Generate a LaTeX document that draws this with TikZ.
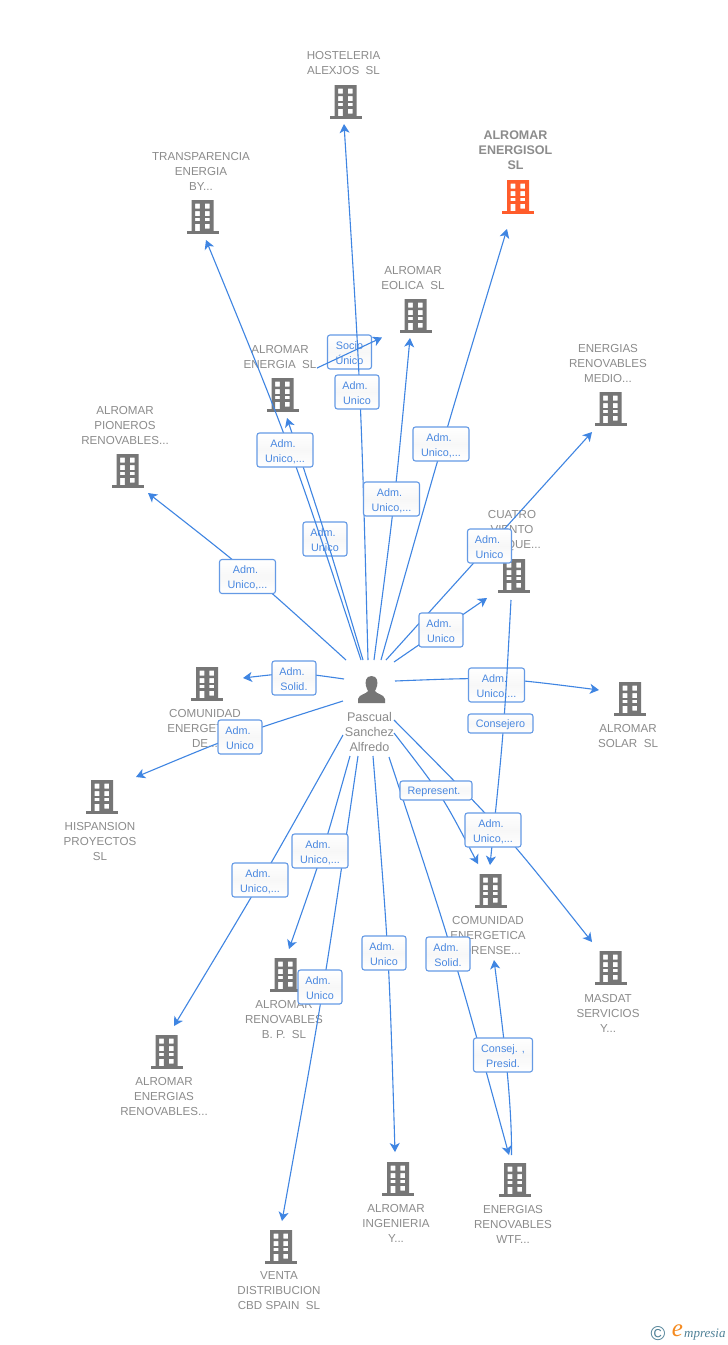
\documentclass[tikz,border=0pt]{standalone}
\usepackage{fontspec}
\setmainfont{Liberation Sans}
\newfontfamily\logofont{Liberation Serif}
\usetikzlibrary{arrows.meta}
\definecolor{edgeblue}{HTML}{3F85E2}
\definecolor{labelblue}{HTML}{4A88E0}
\definecolor{icongray}{HTML}{767676}
\definecolor{textgray}{HTML}{8C8C8C}
\definecolor{hotorange}{HTML}{FF5C2B}
\definecolor{logoteal}{HTML}{4F8197}
\definecolor{logoorange}{HTML}{F58A1F}
\newcommand{\stt}{\rule{0pt}{10.8pt}}
\newcommand{\ad}{\stt Adm.\kern4pt}
\tikzset{
  edge/.style={draw=edgeblue,line width=1.1pt,-{Stealth[length=9pt,width=10pt,inset=2.5pt]}},
  lab/.style={draw=labelblue!85!white,line width=1.1pt,rounded corners=2.5pt,top color=white,bottom color=white,middle color=black!3,
    text=labelblue,align=center,inner sep=0pt,font=\fontsize{10.8}{15}\selectfont},
  labw/.style={lab,minimum width=56pt,minimum height=34pt},
  labn/.style={lab,minimum width=44pt,minimum height=34pt},
  bname/.style={text=textgray,align=center,inner sep=0pt,font=\fontsize{11.6}{15}\selectfont},
  hotname/.style={text=textgray,align=center,inner sep=0pt,font=\fontsize{12.5}{15}\selectfont\bfseries},
  iconbox/.style={inner sep=0pt,minimum width=31pt,minimum height=34pt}
}
\newcommand{\bld}[4][icongray]{%
  \node[iconbox] (#2) at (#3,#4) {};
  \begin{scope}[shift={(#3,#4)}]
    \fill[#1,even odd rule]
      (-11,-17) rectangle (11,14)
      (-7.3,-13.5) rectangle (-2.7,-8.5) (2.3,-13.5) rectangle (7,-8.5)
      (-7.3,-6) rectangle (-2.7,-1) (2.3,-6) rectangle (7,-1)
      (-7.3,0.8) rectangle (-2.7,4.2) (2.3,0.8) rectangle (7,4.2)
      (-7.3,6.8) rectangle (-2.7,14) (2.3,6.8) rectangle (7,11.5);
    \fill[#1] (-16,14) rectangle (16,16.5);
  \end{scope}}
\begin{document}
\begin{tikzpicture}[x=1pt,y=-1pt]
\useasboundingbox (0,0) rectangle (728,1345);
\fill[white] (0,0) rectangle (728,1345);

% buildings
\bld{hosteleria}{345.5}{102}
\bld[hotorange]{energisol}{518}{197}
\bld{transparencia}{202.5}{217}
\bld{eolica}{415.5}{316}
\bld{energia}{282.5}{395}
\bld{pioneros}{127.5}{471}
\bld{medio}{610.5}{409}
\bld{cuatro}{514}{576}
\bld{comunidadde}{207}{684}
\bld{solar}{630}{699}
\bld{hispansion}{102}{797}
\bld{forense}{490.5}{891}
\bld{masdat}{610.5}{968}
\bld{renbp}{285.5}{975}
\bld{energias}{166.5}{1052}
\bld{ingenieria}{398}{1179}
\bld{wtf}{515}{1180}
\bld{venta}{281}{1247}

% building names
\node[bname] (n1) at (343.5,63.5) {HOSTELERIA\\ALEXJOS~~SL};
\node[hotname] (n2) at (515.5,150) {ALROMAR\\ENERGISOL\\SL};
\node[bname] (n3) at (201,171) {TRANSPARENCIA\\ENERGIA\\BY...};
\node[bname] (n4) at (413,278) {ALROMAR\\EOLICA~~SL};
\node[bname] (n5) at (280,357) {ALROMAR\\ENERGIA~~SL};
\node[bname] (n6) at (125,425) {ALROMAR\\PIONEROS\\RENOVABLES...};
\node[bname] (n7) at (608,363) {ENERGIAS\\RENOVABLES\\MEDIO...};
\node[bname] (n8) at (512,531) {CUATRO\\VIENTO\\PARQUE...};
\node[bname] (n9) at (205,728) {COMUNIDAD\\ENERGETICA\\DE...};
\node[bname] (n10) at (628,735.5) {ALROMAR\\SOLAR~~SL};
\node[bname] (n11) at (100,841) {HISPANSION\\PROYECTOS\\SL};
\node[bname] (n12) at (488,935) {COMUNIDAD\\ENERGETICA\\FORENSE...};
\node[bname] (n13) at (608,1013) {MASDAT\\SERVICIOS\\Y...};
\node[bname] (n14) at (284,1019) {ALROMAR\\RENOVABLES\\B.~P.~~SL};
\node[bname] (n15) at (164,1096) {ALROMAR\\ENERGIAS\\RENOVABLES...};
\node[bname] (n16) at (396,1223) {ALROMAR\\INGENIERIA\\Y...};
\node[bname] (n17) at (513,1224) {ENERGIAS\\RENOVABLES\\WTF...};
\node[bname] (n18) at (279,1291) {VENTA\\DISTRIBUCION\\CBD SPAIN~~SL};

% person
\node[iconbox,minimum width=28pt,minimum height=28pt] (p) at (371.5,689.5) {};
\fill[icongray] (371.5,676) .. controls (365.5,676) and (365,682) .. (366,686)
  .. controls (366.5,688) and (367.5,690) .. (368,691)
  .. controls (367,694) and (359,694) .. (358,699) -- (358,703) -- (385,703) -- (385,699)
  .. controls (384,694) and (376,694) .. (375,691)
  .. controls (375.5,690) and (376.5,688) .. (377,686)
  .. controls (378,682) and (377.5,676) .. (371.5,676) -- cycle;
\node[bname,font=\fontsize{12.6}{15}\selectfont] (pn) at (369.5,732) {Pascual\\Sanchez\\Alfredo};

% free ends of the connectors
\coordinate (a1) at (368,660);   \coordinate (t1) at (344,124);
\coordinate (a2) at (361,660);   \coordinate (t2) at (206,240);
\coordinate (a3) at (363,660);   \coordinate (t3) at (287,418);
\coordinate (a4) at (317,368);   \coordinate (t4) at (382,337.5);
\coordinate (a5) at (374,660);   \coordinate (t5) at (410,338);
\coordinate (a6) at (381,660);   \coordinate (t6) at (507,229);
\coordinate (a7) at (386,660);   \coordinate (t7) at (592,432);
\coordinate (a8) at (394,662);   \coordinate (t8) at (487,598);
\coordinate (a9) at (395,681);   \coordinate (t9) at (599,690);
\coordinate (a10) at (511,600);  \coordinate (t10) at (490,865);
\coordinate (a11) at (394,720);  \coordinate (t11) at (592,942);
\coordinate (a12) at (394,733);  \coordinate (t12) at (478,864);
\coordinate (a13) at (389,757);  \coordinate (t13) at (509,1155);
\coordinate (a14) at (511.5,1155); \coordinate (t14) at (494,960);
\coordinate (a15) at (373,756);  \coordinate (t15) at (395,1152);
\coordinate (a16) at (358,756);  \coordinate (t16) at (282,1221);
\coordinate (a17) at (350,756);  \coordinate (t17) at (289,949);
\coordinate (a18) at (343,735);  \coordinate (t18) at (174,1026);
\coordinate (a19) at (343,701);  \coordinate (t19) at (136,777);
\coordinate (a20) at (344,679);  \coordinate (t20) at (243,678);
\coordinate (a21) at (346,660);  \coordinate (t21) at (148,493);

% connectors and their boxes, in stacking order
\node[labn] (l3) at (325,539) {\ad\\Unico};
\draw[edge] (a2) .. controls (292,450) .. (t2);
\draw[edge] (a3) .. controls (327,539) .. (t3);
\node[labw] (l2) at (285,450) {\ad\\Unico,...};

\node[labn] (l4) at (349.5,352) {\stt Socio\\Único};
\draw[edge] (a4) -- (t4);
\draw[edge] (a1) .. controls (361,392) .. (t1);
\node[labn] (l1) at (357,392) {\ad\\Unico};

\draw[edge] (a5) .. controls (395,499) .. (t5);
\node[labw] (l5) at (391.5,499) {\ad\\Unico,...};

\draw[edge] (a6) .. controls (442,444) .. (t6);
\node[labw] (l6) at (441,444) {\ad\\Unico,...};

\draw[edge] (a7) -- (t7);
\node[labn] (l7) at (489.5,546) {\ad\\Unico};

\draw[edge] (a8) -- (t8);
\node[labn] (l8) at (441,630) {\ad\\Unico};

\draw[edge] (a9) .. controls (497,677) .. (t9);
\node[labw] (l9) at (496.5,685) {\ad\\Unico,...};

\draw[edge] (a10) .. controls (504,730) .. (t10);
\node[lab,minimum width=65pt,minimum height=19pt] (l10) at (500.5,723.5) {\stt Consejero};

\draw[edge] (a13) .. controls (454,954) .. (t13);
\draw[edge] (a12) .. controls (442,795) .. (t12);
\draw[edge] (a11) .. controls (504,831) .. (t11);
\node[lab,minimum width=72pt,minimum height=19pt] (l12) at (436,790.5) {\stt Represent.\kern4pt};
\node[labw] (l11) at (493,830) {\ad\\Unico,...};

\node[labn] (l13) at (448,954) {\ad\\Solid.};

\draw[edge] (a14) .. controls (512,1100) and (503,1030) .. (t14);
\node[lab,minimum width=59pt,minimum height=34pt] (l14) at (503,1055) {\stt Consej. ,\\Presid.};

\draw[edge] (a15) .. controls (389,954) .. (t15);
\node[labn] (l15) at (384,953) {\ad\\Unico};

\draw[edge] (a16) .. controls (324,988) .. (t16);
\node[labn] (l16) at (320,987) {\ad\\Unico};

\draw[edge] (a17) .. controls (323,852) .. (t17);
\node[labw] (l17) at (320,851) {\ad\\Unico,...};

\draw[edge] (a18) .. controls (262,880) .. (t18);
\node[labw] (l18) at (260,880) {\ad\\Unico,...};

\draw[edge] (a19) .. controls (239,734) .. (t19);
\node[labn] (l19) at (240,737) {\ad\\Unico};

\draw[edge] (a20) .. controls (295,672) .. (t20);
\node[labn] (l20) at (294,678) {\ad\\Solid.};

\draw[edge] (a21) .. controls (249,572) .. (t21);
\node[labw] (l21) at (247.5,576.5) {\ad\\Unico,...};

% logo
\node[inner sep=0pt,text=logoteal,font=\fontsize{20}{20}\selectfont] (c) at (658,1334) {©};
\node[inner sep=0pt,text=logoorange,font=\logofont\itshape\fontsize{25}{25}\selectfont] (e) at (677.5,1331) {e};
\node[inner sep=0pt,text=logoteal,font=\logofont\itshape\fontsize{13}{13}\selectfont,anchor=west] (m) at (684,1335) {mpresia};
\end{tikzpicture}
\end{document}
